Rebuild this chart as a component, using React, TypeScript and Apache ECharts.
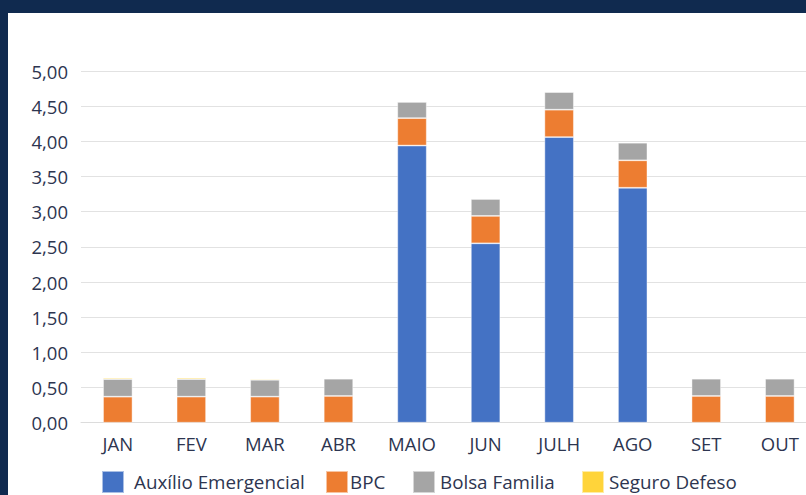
import React, { useEffect, useRef } from "react";
import * as echarts from "echarts";

const months = ["JAN", "FEV", "MAR", "ABR", "MAIO", "JUN", "JULH", "AGO", "SET", "OUT"];
const auxilio = [null, null, null, null, 3.94, 2.55, 4.06, 3.34, null, null];
const bpc = [0.37, 0.37, 0.37, 0.38, 0.39, 0.39, 0.39, 0.39, 0.38, 0.38];
const bolsa = [0.25, 0.25, 0.24, 0.245, 0.23, 0.24, 0.25, 0.25, 0.245, 0.245];
const seguro = [0.02, 0.02, 0.015, null, null, null, null, null, null, null];
const seriesNames = ["Auxílio Emergencial", "BPC", "Bolsa Familia", "Seguro Defeso"];
const colors = ["#4472C4", "#ED7D31", "#A5A5A5", "#FFD43A"];

const FONT = "'Open Sans', 'Noto Sans', sans-serif";
const TEXT = "#2d3550";

export default function App() {
  const ref = useRef<HTMLDivElement>(null);
  useEffect(() => {
    document.body.style.margin = "0";
    const chart = echarts.init(ref.current!, undefined, { renderer: "svg" });
    const values = [auxilio, bpc, bolsa, seguro];
    const legendLefts = [93, 317, 404, 573];
    chart.setOption({
      animation: false,
      color: colors,
      textStyle: { fontFamily: FONT },
      grid: { left: 73, top: 58, width: 735.6, height: 351.7, containLabel: false },
      legend: seriesNames.map((n, i) => ({
        data: [n],
        left: legendLefts[i],
        top: 457,
        padding: 0,
        itemWidth: 22,
        itemHeight: 22,
        itemGap: 5,
        icon: "rect",
        textStyle: { fontFamily: FONT, fontSize: 18.8, color: TEXT, padding: [0, 0, 0, i === 0 ? 5 : i === 1 ? -3 : 0] },
      })),
      xAxis: {
        type: "category",
        data: months,
        axisTick: { show: false },
        axisLine: { lineStyle: { color: "#dcdcdc", width: 1 } },
        axisLabel: { fontFamily: FONT, fontSize: 18.5, color: TEXT, margin: 11 },
      },
      yAxis: {
        type: "value",
        min: 0,
        max: 5,
        interval: 0.5,
        axisLine: { show: false },
        axisTick: { show: false },
        splitLine: { lineStyle: { color: "#e2e2e2", width: 1 } },
        axisLabel: {
          fontFamily: FONT,
          fontSize: 18.5,
          color: TEXT,
          margin: 13,
          formatter: (v: number) => v.toFixed(2).replace(".", ","),
        },
      },
      series: seriesNames.map((n, i) => ({
        name: n,
        type: "bar",
        stack: "total",
        barWidth: "40%",
        data: values[i],
        itemStyle: { color: colors[i], borderColor: "rgba(255,255,255,0.55)", borderWidth: 0.8 },
      })),
    });
    return () => chart.dispose();
  }, []);
  return (
    <div style={{ position: "relative", width: 806, height: 495, overflow: "hidden", background: "#102a4f" }}>
      <div
        ref={ref}
        style={{ position: "absolute", left: 8, top: 13, width: 812, height: 482, background: "#ffffff" }}
      />
    </div>
  );
}
